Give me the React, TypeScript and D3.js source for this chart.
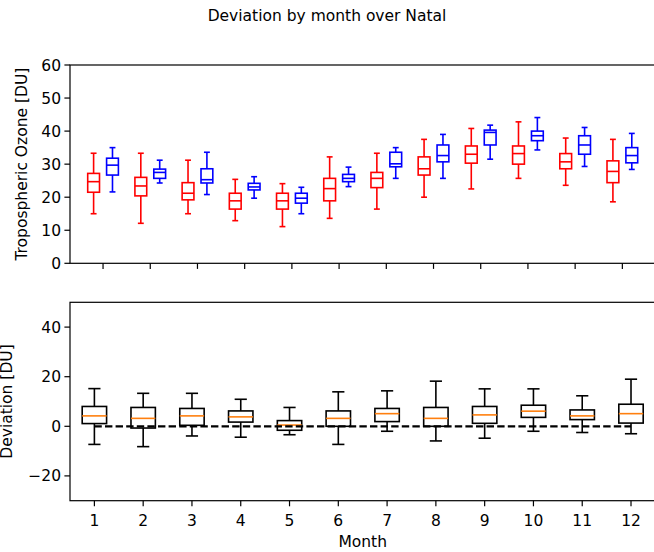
import React from 'react'
import * as d3 from 'd3'

// month positions
const months = [1, 2, 3, 4, 5, 6, 7, 8, 9, 10, 11, 12]

// [whisker low, q1, median, q3, whisker high] per month
const redStats = [
  [15.0, 21.5, 24.7, 27.2, 33.3],
  [12.1, 20.4, 23.4, 26.0, 33.3],
  [15.0, 19.2, 21.2, 24.4, 31.2],
  [12.9, 16.4, 18.9, 21.2, 25.4],
  [11.1, 16.4, 18.9, 21.2, 24.1],
  [13.6, 18.9, 22.6, 25.7, 32.2],
  [16.4, 22.9, 25.7, 27.5, 33.3],
  [20.0, 26.7, 28.6, 32.2, 37.5],
  [22.5, 30.3, 33.0, 35.5, 40.8],
  [25.7, 30.0, 33.2, 35.5, 42.8],
  [23.6, 28.6, 30.7, 33.2, 37.9],
  [18.6, 24.4, 27.8, 31.0, 37.5],
]

const blueStats = [
  [21.6, 26.7, 29.7, 31.8, 35.0],
  [24.3, 25.7, 27.5, 28.5, 31.2],
  [20.8, 24.3, 25.3, 28.6, 33.6],
  [19.7, 22.2, 23.1, 24.2, 26.2],
  [15.0, 18.2, 19.7, 21.2, 23.0],
  [23.2, 24.7, 25.7, 26.9, 29.1],
  [25.7, 29.2, 30.1, 33.6, 35.0],
  [25.7, 30.7, 32.6, 35.8, 39.0],
  [31.5, 35.8, 39.6, 40.3, 41.8],
  [34.3, 37.1, 38.6, 40.0, 44.1],
  [29.3, 33.0, 35.8, 38.6, 41.1],
  [28.4, 30.4, 32.6, 35.0, 39.3],
]

const devStats = [
  [-7.3, 1.1, 4.2, 8.0, 15.2],
  [-8.2, -0.7, 3.2, 7.6, 13.3],
  [-3.9, 0.4, 4.2, 7.2, 13.3],
  [-4.4, 1.7, 3.8, 6.2, 10.9],
  [-3.4, -1.6, 0.5, 2.3, 7.6],
  [-7.3, 0.0, 3.2, 6.2, 13.9],
  [-2.0, 1.9, 5.1, 7.2, 14.3],
  [-5.9, 0.0, 3.2, 7.6, 18.2],
  [-4.8, 1.2, 4.6, 8.0, 15.1],
  [-2.0, 3.6, 6.1, 8.5, 15.1],
  [-2.5, 2.7, 4.2, 6.6, 12.3],
  [-3.0, 1.3, 5.1, 8.9, 19.0],
]

const topTicks = [0, 10, 20, 30, 40, 50, 60]
const bottomTicks = [-20, 0, 20, 40]

const W = 654
const H = 552
const left = 70
const right = 655.4
const font = 'DejaVu Sans, sans-serif'
const fs = 15.5

const xTop = d3.scaleLinear().domain([0.3, 12.7]).range([left, right])
const xBot = d3.scaleLinear().domain([0.5, 12.5]).range([left, right])
const yTop = d3.scaleLinear().domain([0, 60]).range([263.3, 65])
const yBot = d3.scaleLinear().domain([-30, 50]).range([500.7, 302.3])

type Scale = d3.ScaleLinear<number, number>

const Box = ({ pos, s, width, x, y, color, medColor }: {
  pos: number, s: number[], width: number, x: Scale, y: Scale, color: string, medColor: string
}) => {
  const x0 = x(pos - width / 2)
  const x1 = x(pos + width / 2)
  const c0 = x(pos - width / 4)
  const c1 = x(pos + width / 4)
  const cx = x(pos)
  const [lo, q1, med, q3, hi] = s
  return (
    <g stroke={color} strokeWidth={1.6} fill="none">
      <line x1={cx} x2={cx} y1={y(q1)} y2={y(lo)} />
      <line x1={cx} x2={cx} y1={y(q3)} y2={y(hi)} />
      <line x1={c0} x2={c1} y1={y(lo)} y2={y(lo)} />
      <line x1={c0} x2={c1} y1={y(hi)} y2={y(hi)} />
      <rect x={x0} width={x1 - x0} y={y(q3)} height={y(q1) - y(q3)} />
      <line x1={x0} x2={x1} y1={y(med)} y2={y(med)} stroke={medColor} />
    </g>
  )
}

const Frame = ({ x, y, yTicks, showXLabels }: {
  x: Scale, y: Scale, yTicks: number[], showXLabels: boolean
}) => {
  const [y0, y1] = y.range()
  return (
    <g>
      <rect x={left} y={y1} width={right - left} height={y0 - y1} fill="none" stroke="#000" strokeWidth={1.2} />
      {months.map(m => (
        <g key={m}>
          <line x1={x(m)} x2={x(m)} y1={y0} y2={y0 + 5.6} stroke="#000" strokeWidth={1.2} />
          {showXLabels && (
            <text x={x(m)} y={y0 + 25} textAnchor="middle" fontSize={fs} fontFamily={font} fill="#000">{m}</text>
          )}
        </g>
      ))}
      {yTicks.map(t => (
        <g key={t}>
          <line x1={left - 5.6} x2={left} y1={y(t)} y2={y(t)} stroke="#000" strokeWidth={1.2} />
          <text x={left - 9} y={y(t)} dy="0.36em" textAnchor="end" fontSize={fs} fontFamily={font} fill="#000">
            {t < 0 ? '\u2212' + Math.abs(t) : t}
          </text>
        </g>
      ))}
    </g>
  )
}

export default function App() {
  return (
    <svg width={W} height={H} style={{ position: 'absolute', left: 0, top: 0, background: '#fff' }}>
      <rect width={W} height={H} fill="#fff" />
      <text x={W / 2} y={20.5} textAnchor="middle" fontSize={fs} fontFamily={font} fill="#000">
        Deviation by month over Natal
      </text>

      <Frame x={xTop} y={yTop} yTicks={topTicks} showXLabels={false} />
      {months.map((m, i) => (
        <g key={m}>
          <Box pos={m - 0.2} s={redStats[i]} width={0.25} x={xTop} y={yTop} color="#ff0000" medColor="#ff0000" />
          <Box pos={m + 0.2} s={blueStats[i]} width={0.25} x={xTop} y={yTop} color="#0000ff" medColor="#0000ff" />
        </g>
      ))}
      <text transform={`translate(21,${(yTop(0) + yTop(60)) / 2}) rotate(-90)`} textAnchor="middle" dy="0.36em"
        fontSize={fs} fontFamily={font} fill="#000">Tropospheric Ozone [DU]</text>

      <Frame x={xBot} y={yBot} yTicks={bottomTicks} showXLabels={true} />
      {months.map((m, i) => (
        <Box key={m} pos={m} s={devStats[i]} width={0.5} x={xBot} y={yBot} color="#000" medColor="#ff7f0e" />
      ))}
      <line x1={xBot(1)} x2={xBot(12)} y1={yBot(0)} y2={yBot(0)} stroke="#000" strokeWidth={2.2} strokeDasharray="7.4 3.2" />
      <text transform={`translate(6,${(yBot(-30) + yBot(50)) / 2}) rotate(-90)`} textAnchor="middle" dy="0.36em"
        fontSize={fs} fontFamily={font} fill="#000">Deviation [DU]</text>
      <text x={(xBot(0.5) + xBot(12.5)) / 2} y={547} textAnchor="middle" fontSize={fs} fontFamily={font} fill="#000">Month</text>
    </svg>
  )
}
